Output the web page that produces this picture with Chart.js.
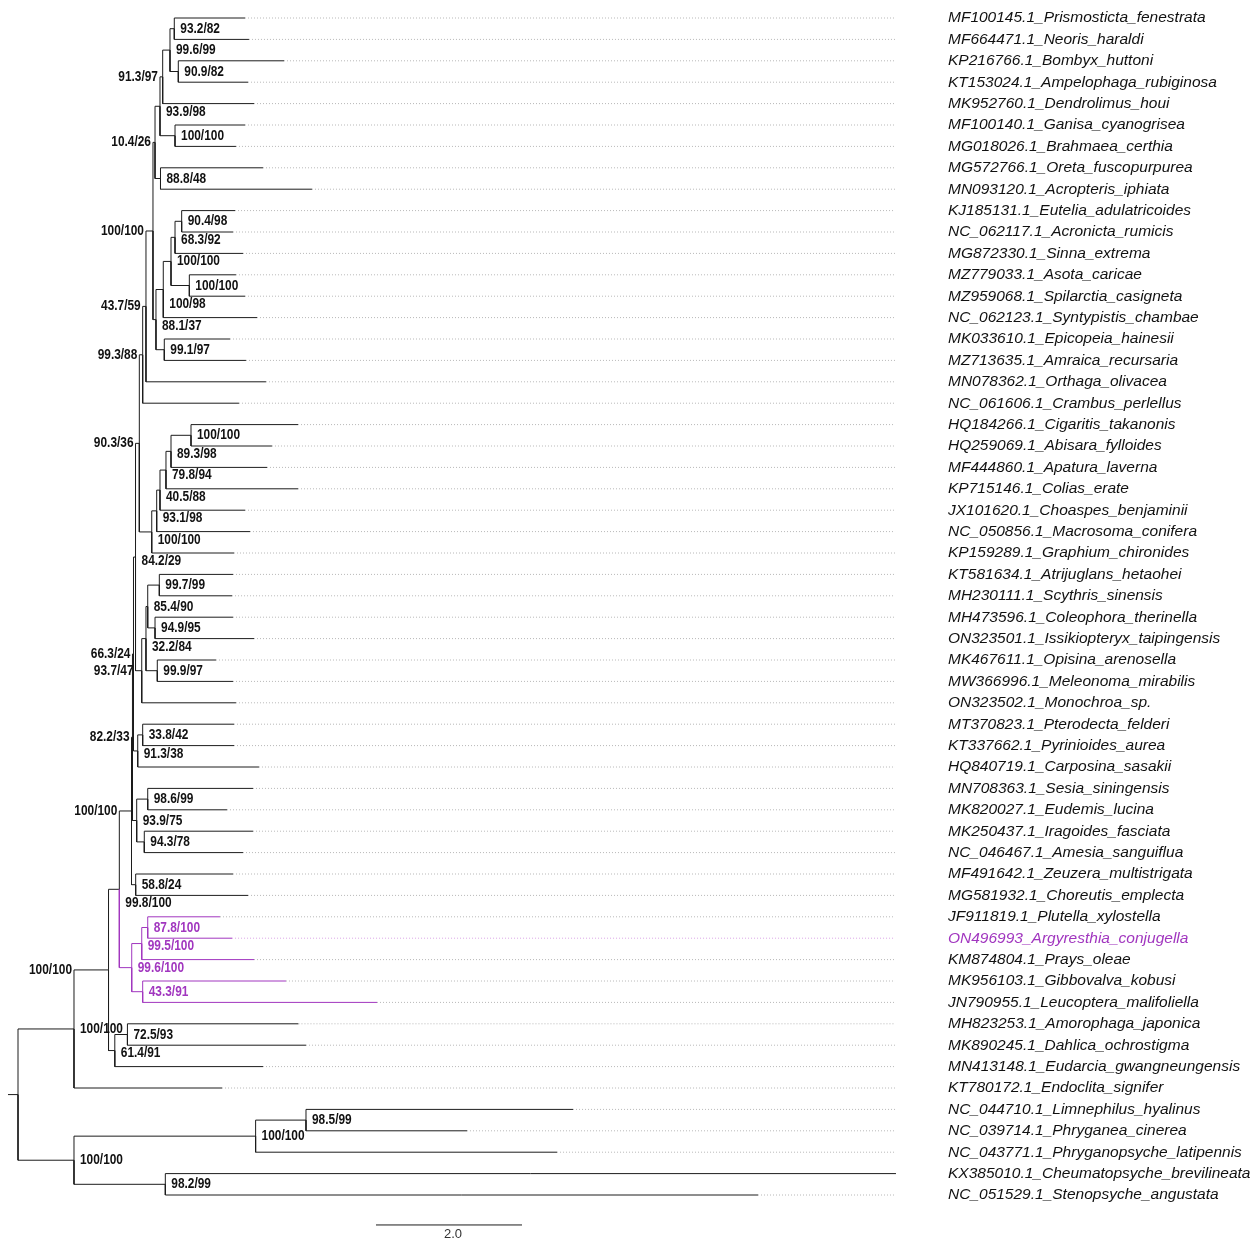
<!DOCTYPE html>
<html>
<head>
<meta charset="utf-8">
<script src="https://cdn.jsdelivr.net/npm/chart.js@4.4.1/dist/chart.umd.min.js"></script>
<style>
  html, body { margin: 0; padding: 0; background: #fff; }
  #wrap { width: 1255px; height: 1240px; }
</style>
</head>
<body>
<div id="wrap"><canvas id="tree" width="1255" height="1240"></canvas></div>
<script>
// tips, top to bottom
const taxa = [
    'MF100145.1_Prismosticta_fenestrata', 'MF664471.1_Neoris_haraldi', 'KP216766.1_Bombyx_huttoni',
    'KT153024.1_Ampelophaga_rubiginosa', 'MK952760.1_Dendrolimus_houi', 'MF100140.1_Ganisa_cyanogrisea',
    'MG018026.1_Brahmaea_certhia', 'MG572766.1_Oreta_fuscopurpurea', 'MN093120.1_Acropteris_iphiata',
    'KJ185131.1_Eutelia_adulatricoides', 'NC_062117.1_Acronicta_rumicis', 'MG872330.1_Sinna_extrema',
    'MZ779033.1_Asota_caricae', 'MZ959068.1_Spilarctia_casigneta', 'NC_062123.1_Syntypistis_chambae',
    'MK033610.1_Epicopeia_hainesii', 'MZ713635.1_Amraica_recursaria', 'MN078362.1_Orthaga_olivacea',
    'NC_061606.1_Crambus_perlellus', 'HQ184266.1_Cigaritis_takanonis', 'HQ259069.1_Abisara_fylloides',
    'MF444860.1_Apatura_laverna', 'KP715146.1_Colias_erate', 'JX101620.1_Choaspes_benjaminii',
    'NC_050856.1_Macrosoma_conifera', 'KP159289.1_Graphium_chironides', 'KT581634.1_Atrijuglans_hetaohei',
    'MH230111.1_Scythris_sinensis', 'MH473596.1_Coleophora_therinella', 'ON323501.1_Issikiopteryx_taipingensis',
    'MK467611.1_Opisina_arenosella', 'MW366996.1_Meleonoma_mirabilis', 'ON323502.1_Monochroa_sp.',
    'MT370823.1_Pterodecta_felderi', 'KT337662.1_Pyrinioides_aurea', 'HQ840719.1_Carposina_sasakii',
    'MN708363.1_Sesia_siningensis', 'MK820027.1_Eudemis_lucina', 'MK250437.1_Iragoides_fasciata',
    'NC_046467.1_Amesia_sanguiflua', 'MF491642.1_Zeuzera_multistrigata', 'MG581932.1_Choreutis_emplecta',
    'JF911819.1_Plutella_xylostella', 'ON496993_Argyresthia_conjugella', 'KM874804.1_Prays_oleae',
    'MK956103.1_Gibbovalva_kobusi', 'JN790955.1_Leucoptera_malifoliella', 'MH823253.1_Amorophaga_japonica',
    'MK890245.1_Dahlica_ochrostigma', 'MN413148.1_Eudarcia_gwangneungensis', 'KT780172.1_Endoclita_signifer',
    'NC_044710.1_Limnephilus_hyalinus', 'NC_039714.1_Phryganea_cinerea', 'NC_043771.1_Phryganopsyche_latipennis',
    'KX385010.1_Cheumatopsyche_brevilineata', 'NC_051529.1_Stenopsyche_angustata'
];

// distance from root to each tip (substitutions/site)
const tipDepth = [
    3.110, 3.164, 3.644, 3.151, 3.233, 3.110, 2.986, 3.356, 4.027,
    2.973, 2.945, 3.082, 2.986, 3.110, 3.274, 2.904, 3.123, 3.397,
    3.027, 3.836, 3.479, 3.411, 3.836, 3.110, 3.178, 2.959, 2.945,
    2.932, 2.945, 3.233, 2.712, 2.945, 2.986, 2.959, 2.959, 3.301,
    3.219, 2.863, 3.219, 3.082, 2.945, 3.151, 2.767, 2.932, 3.233,
    3.671, 4.918, 3.842, 3.945, 3.356, 2.795, 7.603, 6.151, 7.384,
    12.027, 10.137
];

// internal nodes, children listed before parents (tN = tip, nN = node)
const nodeKids = [
    ['t0', 't1'], ['t2', 't3'], ['n0', 'n1'], ['n2', 't4'], ['t5', 't6'],          // n0-n4
    ['n3', 'n4'], ['t7', 't8'], ['n5', 'n6'], ['t9', 't10'], ['n8', 't11'],        // n5-n9
    ['t12', 't13'], ['n9', 'n10'], ['n11', 't14'], ['t15', 't16'], ['n12', 'n13'], // n10-n14
    ['n7', 'n14'], ['n15', 't17'], ['n16', 't18'], ['t19', 't20'], ['n18', 't21'], // n15-n19
    ['n19', 't22'], ['n20', 't23'], ['n21', 't24'], ['n22', 't25'], ['n17', 'n23'], // n20-n24
    ['t26', 't27'], ['t28', 't29'], ['n25', 'n26'], ['t30', 't31'], ['n27', 'n28'], // n25-n29
    ['n29', 't32'], ['n24', 'n30'], ['t33', 't34'], ['n32', 't35'], ['n31', 'n33'], // n30-n34
    ['t36', 't37'], ['t38', 't39'], ['n35', 'n36'], ['n34', 'n37'], ['t40', 't41'], // n35-n39
    ['n38', 'n39'], ['t42', 't43'], ['n41', 't44'], ['t45', 't46'], ['n42', 'n43'], // n40-n44
    ['n40', 'n44'], ['t47', 't48'], ['n46', 't49'], ['n45', 'n47'], ['n48', 't50'], // n45-n49
    ['t51', 't52'], ['n50', 't53'], ['t54', 't55'], ['n51', 'n52'], ['n49', 'n53']  // n50-n54
];

const nodeDepth = [
    2.141, 2.196, 2.082, 1.982, 2.151, 1.945, 1.952, 1.877, 2.242, 2.151,
    2.347, 2.096, 1.990, 2.004, 1.890, 1.849, 1.753, 1.708, 2.370, 2.096,
    2.027, 1.945, 1.900, 1.832, 1.662, 1.936, 1.877, 1.777, 1.908, 1.753,
    1.695, 1.610, 1.708, 1.640, 1.582, 1.777, 1.730, 1.626, 1.568, 1.612,
    1.555, 1.777, 1.695, 1.708, 1.558, 1.388, 1.499, 1.326, 1.240, 0.767,
    3.945, 3.255, 2.018, 0.767, 0
];

// SH-aLRT / UFBoot support
const nodeSupport = [
    '93.2/82', '90.9/82', '99.6/99', '91.3/97', '100/100', '93.9/98', '88.8/48', '10.4/26', '90.4/98', '68.3/92',
    '100/100', '100/100', '100/98', '99.1/97', '88.1/37', '100/100', '43.7/59', '99.3/88', '100/100', '89.3/98',
    '79.8/94', '40.5/88', '93.1/98', '100/100', '90.3/36', '99.7/99', '94.9/95', '85.4/90', '99.9/97', '32.2/84',
    '93.7/47', '84.2/29', '33.8/42', '91.3/38', '66.3/24', '98.6/99', '94.3/78', '93.9/75', '82.2/33', '58.8/24',
    '100/100', '87.8/100', '99.5/100', '43.3/91', '99.6/100', '99.8/100', '72.5/93', '61.4/91', '100/100', '100/100',
    '98.5/99', '100/100', '98.2/99', '100/100', ''
];

const highlightTaxon = 'ON496993_Argyresthia_conjugella';
const highlightClade = 'n44';
const scaleBarLength = 2.0;

// drawing setup
const PURPLE = '#a136bf';
const INK = '#1c1c1c';
const leftLabelled = new Set(['n3', 'n7', 'n15', 'n16', 'n17', 'n24', 'n30', 'n34', 'n38', 'n40', 'n48']);
const alignX = 12.014;
const scaleBarX = 4.904, scaleBarY = 56.4;
const pxPerX = 73, pxPerY = 21.4;
const xMin = -18 / pxPerX, xMax = xMin + 940 / pxPerX;
const yMin = -18 / pxPerY, yMax = yMin + 1240 / pxPerY;
const NARROW = 0.82; // condensed look for the support values

const pos = {};
const parent = {};
taxa.forEach((_, i) => { pos['t' + i] = { x: tipDepth[i], y: i }; });
nodeKids.forEach((kids, k) => {
    const ys = kids.map(c => pos[c].y);
    pos['n' + k] = { x: nodeDepth[k], y: (ys[0] + ys[ys.length - 1]) / 2 };
    kids.forEach(c => { parent[c] = 'n' + k; });
});
const rootId = 'n' + (nodeKids.length - 1);

const purple = new Set();
(function mark(id) {
    purple.add(id);
    const m = id[0] === 'n' ? nodeKids[+id.slice(1)] : [];
    m.forEach(mark);
})(highlightClade);

const datasets = [];
// dotted guides from tips to the label column
taxa.forEach((name, i) => {
    if (tipDepth[i] >= alignX) return;
    datasets.push({
        data: [{ x: tipDepth[i], y: i }, { x: alignX, y: i }],
        borderColor: name === highlightTaxon ? '#dba6e6' : '#b8b8b8',
        borderWidth: 1, borderDash: [1, 2]
    });
});
// branches: vertical at parent, then horizontal to child
Object.keys(parent).forEach(id => {
    const p = pos[parent[id]], c = pos[id];
    datasets.push({
        data: [{ x: p.x, y: p.y }, { x: p.x, y: c.y }, { x: c.x, y: c.y }],
        borderColor: purple.has(id) ? PURPLE : INK,
        borderWidth: 1
    });
});
datasets.push({
    data: [{ x: -0.137, y: pos[rootId].y }, { x: 0, y: pos[rootId].y }],
    borderColor: INK, borderWidth: 1
});
datasets.push({
    data: [{ x: scaleBarX, y: scaleBarY }, { x: scaleBarX + scaleBarLength, y: scaleBarY }],
    borderColor: INK, borderWidth: 1
});
datasets.forEach(d => {
    d.showLine = true; d.pointRadius = 0; d.tension = 0; d.fill = false;
    d.borderJoinStyle = 'miter';
});

function narrowText(ctx, txt, x, y, align) {
    const w = ctx.measureText(txt).width * NARROW;
    const left = align === 'right' ? x - w : x;
    ctx.save();
    ctx.translate(left, y);
    ctx.scale(NARROW, 1);
    ctx.textAlign = 'left';
    ctx.fillText(txt, 0, 0);
    ctx.restore();
}

// support values next to nodes, plus the scale bar caption
const nodeLabels = {
    id: 'nodeLabels',
    afterDatasetsDraw(chart) {
        const { ctx, scales: { x, y } } = chart;
        const segs = [];
        Object.keys(parent).forEach(id => {
            segs.push({ y: y.getPixelForValue(pos[id].y), x1: x.getPixelForValue(pos[parent[id]].x), x2: x.getPixelForValue(pos[id].x) });
        });
        taxa.forEach((_, i) => {
            segs.push({ y: y.getPixelForValue(i), x1: x.getPixelForValue(tipDepth[i]), x2: x.getPixelForValue(alignX) });
        });
        ctx.save();
        ctx.font = "bold 14.5px 'Liberation Sans', Arial, sans-serif";
        ctx.textBaseline = 'middle';
        nodeSupport.forEach((txt, k) => {
            if (!txt) return;
            const id = 'n' + k;
            const nx = x.getPixelForValue(pos[id].x);
            let ny = y.getPixelForValue(pos[id].y);
            ctx.fillStyle = purple.has(id) ? PURPLE : '#111';
            if (leftLabelled.has(id)) {
                narrowText(ctx, txt, x.getPixelForValue(pos[parent[id]].x) - 2, ny, 'right');
                return;
            }
            // drop the label just below any branch it would sit on
            const x0 = nx + 6, w = ctx.measureText(txt).width * NARROW;
            for (let pass = 0; pass < 6; pass++) {
                const hit = segs.find(s => Math.abs(s.y - ny) < 5.5 && Math.min(s.x2, x0 + w) - Math.max(s.x1, x0) > 2);
                if (!hit) break;
                ny = hit.y + 8;
            }
            narrowText(ctx, txt, x0, ny, 'left');
        });
        ctx.font = "13px 'Liberation Sans', Arial, sans-serif";
        ctx.fillStyle = '#333';
        ctx.textAlign = 'center';
        ctx.fillText(scaleBarLength.toFixed(1), x.getPixelForValue(scaleBarX + scaleBarLength / 2) + 4, y.getPixelForValue(scaleBarY) + 9);
        ctx.restore();
    }
};

new Chart(document.getElementById('tree'), {
    type: 'scatter',
    data: { datasets },
    options: {
        responsive: false,
        animation: false,
        events: [],
        layout: { padding: 0 },
        plugins: { legend: { display: false }, tooltip: { enabled: false } },
        scales: {
            x: { type: 'linear', display: false, min: xMin, max: xMax },
            y: {
                type: 'linear', position: 'right', reverse: true, min: yMin, max: yMax,
                grid: { display: false, drawTicks: false },
                border: { display: false },
                afterBuildTicks: s => { s.ticks = taxa.map((_, i) => ({ value: i })); },
                afterFit: s => { s.width = 1255 - 940; s.paddingTop = 0; s.paddingBottom = 0; },
                ticks: {
                    autoSkip: false,
                    padding: 8,
                    font: { family: "'Liberation Sans', Arial, sans-serif", size: 15.5, style: 'italic' },
                    color: c => (c.tick && taxa[c.tick.value] === highlightTaxon ? PURPLE : '#111'),
                    callback: v => taxa[v]
                }
            }
        }
    },
    plugins: [nodeLabels]
});
</script>
</body>
</html>
